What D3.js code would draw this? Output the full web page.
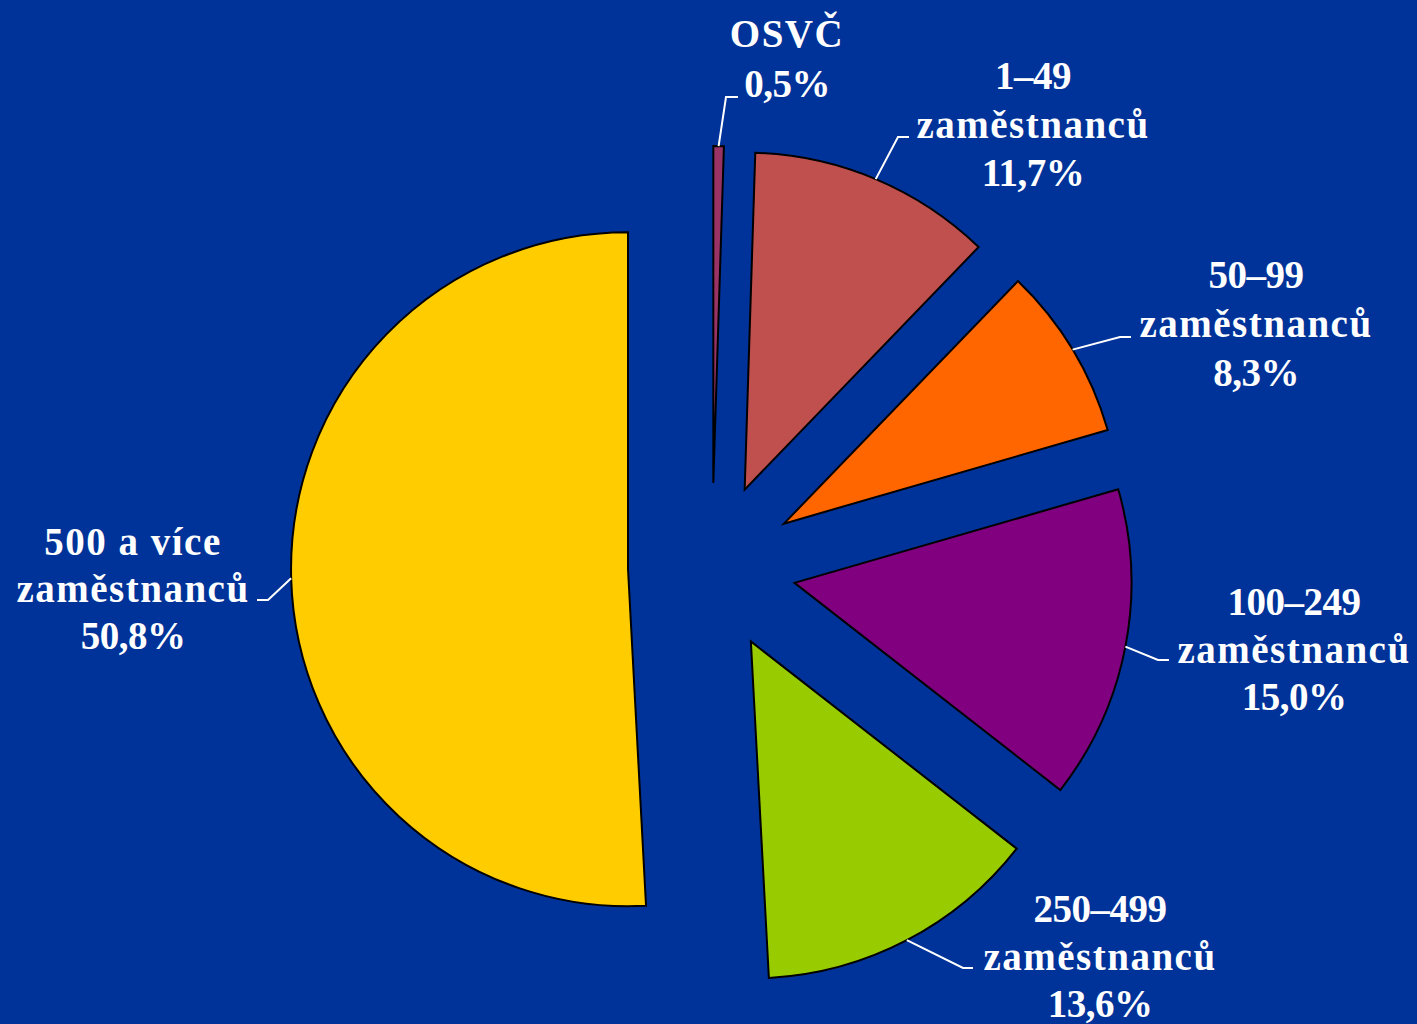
<!DOCTYPE html>
<html><head><meta charset="utf-8">
<script src="https://cdn.jsdelivr.net/npm/d3@7"></script>
<style>html,body{margin:0;padding:0;background:#003399;}svg{display:block;}</style>
</head><body>
<svg id="chart" width="1417" height="1024"></svg>
<script>
const categories = ["OSVČ", "1–49 zaměstnanců", "50–99 zaměstnanců", "100–249 zaměstnanců", "250–499 zaměstnanců", "500 a více zaměstnanců"];
const values = [0.5, 11.7, 8.3, 15.0, 13.6, 50.8];
const valueLabels = ["0,5%", "11,7%", "8,3%", "15,0%", "13,6%", "50,8%"];
const labelLines = [["OSVČ"], ["1–49", "zaměstnanců"], ["50–99", "zaměstnanců"], ["100–249", "zaměstnanců"], ["250–499", "zaměstnanců"], ["500 a více", "zaměstnanců"]];
const colors = ["#993366", "#C0504D", "#FF6600", "#800080", "#99CC00", "#FFCC00"];

// layout for labels: text center x, first baseline y, elbow point, end x of leader
const labelLayout = [
  {x: 787, y: 47, ex: 726, ey: 97, endx: 738, dy: 50},
  {x: 1033, y: 89, ex: 898, ey: 137, endx: 909, dy: 48.5},
  {x: 1256, y: 288, ex: 1120, ey: 337, endx: 1131, dy: 49},
  {x: 1294, y: 615, ex: 1158, ey: 660, endx: 1169, dy: 47.5},
  {x: 1100, y: 922, ex: 963, ey: 968, endx: 973, dy: 47.5},
  {x: 133, y: 555, ex: 268, ey: 600, endx: 257, dy: 47}
];

const svg = d3.select("#chart");
svg.append("rect").attr("width", 1417).attr("height", 1024).attr("fill", "#003399");

const cx = 712, cy = 567, R = 337, explode = 84;
const pie = d3.pie().sort(null).value(d => d).startAngle(0).endAngle(2 * Math.PI);
const arcs = pie(values);
const arc = d3.arc().innerRadius(0).outerRadius(R);

const g = svg.append("g").attr("transform", `translate(${cx},${cy})`);

arcs.forEach((a, i) => {
  const mid = (a.startAngle + a.endAngle) / 2;
  const ox = Math.sin(mid) * explode, oy = -Math.cos(mid) * explode;
  g.append("path")
    .attr("d", arc(a))
    .attr("transform", `translate(${ox},${oy})`)
    .attr("fill", colors[i])
    .attr("stroke", "#000")
    .attr("stroke-width", 2)
    .attr("stroke-linejoin", "miter");
});

// leader lines
arcs.forEach((a, i) => {
  const mid = (a.startAngle + a.endAngle) / 2;
  const sx = cx + Math.sin(mid) * (explode + R);
  const sy = cy - Math.cos(mid) * (explode + R);
  const L = labelLayout[i];
  svg.append("polyline")
    .attr("points", `${sx},${sy} ${L.ex},${L.ey} ${L.endx},${L.ey}`)
    .attr("fill", "none")
    .attr("stroke", "#fff")
    .attr("stroke-width", 2);
});

// labels
arcs.forEach((a, i) => {
  const L = labelLayout[i];
  const lines = labelLines[i].concat([valueLabels[i]]);
  const t = svg.append("text")
    .attr("text-anchor", "middle")
    .attr("fill", "#fff")
    .attr("font-family", "'Liberation Serif', 'DejaVu Serif', serif")
    .attr("font-weight", "bold")
    .attr("font-size", 39);
  lines.forEach((s, k) => {
    const numeric = /^[0-9,–%]+$/.test(s);
    t.append("tspan").attr("x", L.x).attr("y", L.y + k * L.dy)
      .attr("letter-spacing", numeric ? -0.5 : 1.5)
      .text(s);
  });
});
</script>
</body></html>
